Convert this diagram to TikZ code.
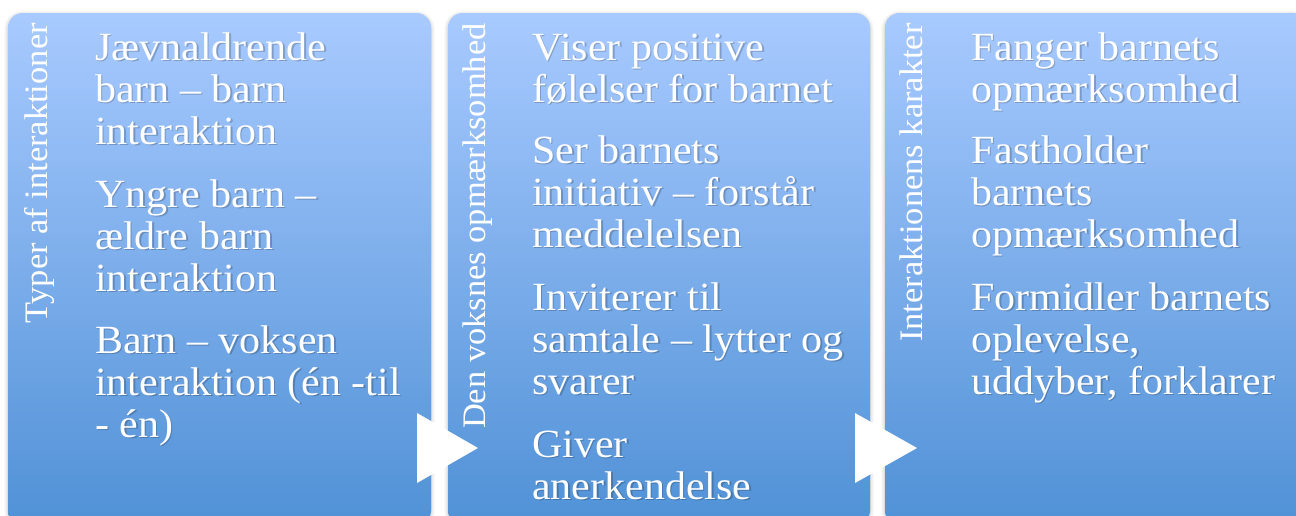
\documentclass[tikz,border=0pt]{standalone}
\usepackage{fontspec}
\setmainfont{Liberation Serif}[FakeStretch=1.05]
\usetikzlibrary{calc,positioning,shadows.blur}

\definecolor{boxtop}{RGB}{168,202,255}
\definecolor{boxbot}{RGB}{80,145,214}

\begin{document}
\begin{tikzpicture}[x=0.75pt, y=-0.75pt]

\tikzset{
box/.style={rounded corners=11pt, top color=boxtop, bottom color=boxbot,
  blur shadow={shadow xshift=0pt, shadow yshift=-1pt, shadow blur radius=3pt, shadow opacity=30}},
head/.style={rotate=90, anchor=base east, inner sep=0pt, text=white, font=\fontsize{24.6}{28}\selectfont},
item/.style={anchor=base west, inner sep=0pt, text=white, font=\fontsize{30}{34}\selectfont},
itemshadow/.style={item, text=black, text opacity=0.2},
tri/.style={fill=white, draw=none}
}

\useasboundingbox (0,0) rectangle (1296,515);
\clip (0,0) rectangle (1296,515);

% Corners
\coordinate (b1) at (8,0);
\coordinate (b2) at (448,0);
\coordinate (b3) at (885,0);

% Boxes
\path[box] ($(b1)+(0,13)$) rectangle ($(b1)+(423,525)$);
\path[box] ($(b2)+(0,13)$) rectangle ($(b2)+(422,525)$);
\path[box] ($(b3)+(0,13)$) rectangle ($(b3)+(422,525)$);

% Arrows
\coordinate (a1) at ($(b1)+(409,448)$);
\coordinate (a2) at ($(b2)+(407,448)$);
\fill[tri] ($(a1)+(0,-35)$) -- ($(a1)+(61,0)$) -- ($(a1)+(0,35)$) -- cycle;
\fill[tri] ($(a2)+(0,-35)$) -- ($(a2)+(62,0)$) -- ($(a2)+(0,35)$) -- cycle;

% Headings
\node[head] (h1) at ($(b1)+(39,23)$) {Typer af interaktioner};
\node[head] (h2) at ($(b2)+(37,23)$) {Den voksnes opmærksomhed};
\node[head] (h3) at ($(b3)+(37,23)$) {Interaktionens karakter};

% Items
\foreach \yy/\txt [count=\i] in {60/Jævnaldrende, 102/barn – barn, 144/interaktion,
  207/Yngre barn –, 249/ældre barn, 291/interaktion,
  353/Barn – voksen, 395/interaktion (én -til, 437/- én)}{
  \node[itemshadow] (sa\i) at ($(b1)+(88.5,\yy+1.5)$) {\txt};
  \node[item] (ta\i) at ($(b1)+(87,\yy)$) {\txt};
}

\foreach \yy/\txt [count=\i] in {60/Viser positive, 102/følelser for barnet,
  163/Ser barnets, 205/initiativ – forstår, 247/meddelelsen,
  310/Inviterer til, 352/samtale – lytter og, 394/svarer,
  457/Giver, 499/anerkendelse}{
  \node[itemshadow] (sb\i) at ($(b2)+(85.5,\yy+1.5)$) {\txt};
  \node[item] (tb\i) at ($(b2)+(84,\yy)$) {\txt};
}

\foreach \yy/\txt [count=\i] in {60/Fanger barnets, 102/opmærksomhed,
  163/Fastholder, 205/barnets, 247/opmærksomhed,
  310/Formidler barnets, {352/oplevelse,}, {394/uddyber, forklarer}}{
  \node[itemshadow] (sc\i) at ($(b3)+(87.5,\yy+1.5)$) {\txt};
  \node[item] (tc\i) at ($(b3)+(86,\yy)$) {\txt};
}

\end{tikzpicture}
\end{document}
